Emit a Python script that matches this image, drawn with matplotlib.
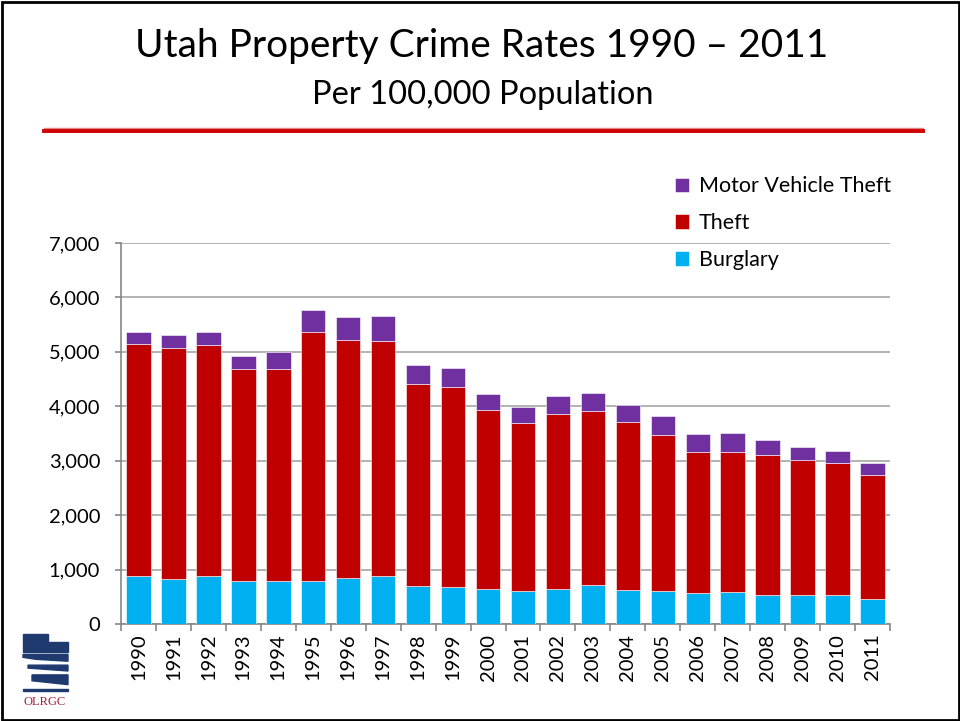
import matplotlib
matplotlib.use("Agg")
import matplotlib.pyplot as plt
from matplotlib.patches import Rectangle, Polygon
from matplotlib.lines import Line2D
from matplotlib.ticker import FuncFormatter, MultipleLocator
import numpy as np

plt.rcParams['font.family'] = ['Lato', 'DejaVu Sans']

years = [str(y) for y in range(1990, 2012)]
burglary = [882, 833, 882, 790, 790, 790, 839, 882, 692, 680, 643,
            605, 642, 716, 624, 599, 569, 587, 532, 538, 538, 459]
theft = [4256, 4244, 4237, 3895, 3901, 4568, 4372, 4323, 3711, 3668, 3282,
         3089, 3223, 3198, 3089, 2881, 2599, 2581, 2575, 2483, 2416, 2287]
mvt = [226, 238, 239, 238, 300, 404, 435, 453, 355, 349, 294,
       288, 331, 325, 318, 349, 330, 337, 269, 239, 220, 214]

c_burg = '#00B0F0'
c_theft = '#C00000'
c_mvt = '#7030A0'

W, H = 960, 721
fig = plt.figure(figsize=(W/100, H/100), dpi=100)

# slide border
fig.add_artist(Rectangle((1.5/W, 1.5/H), (W-3)/W, (H-3)/H, transform=fig.transFigure,
                         fill=False, edgecolor='black', linewidth=2))

fig.text(482/W, 1-46/H, 'Utah Property Crime Rates 1990 \u2013 2011', ha='center', va='center',
         fontsize=28, color='black')
fig.text(483/W, 1-95/H, 'Per 100,000 Population', ha='center', va='center',
         fontsize=23.5, color='black')

# red double line
fig.add_artist(Line2D([44/W, 923/W], [1-127.6/H, 1-127.6/H], transform=fig.transFigure,
                      color='#E88080', linewidth=1.0))
fig.add_artist(Line2D([44/W, 923/W], [1-131.3/H, 1-131.3/H], transform=fig.transFigure,
                      color='#CC0000', linewidth=2.8))

ax = fig.add_axes([121/W, 1-624/H, (890-121)/W, (624-243)/H])
x = np.arange(len(years))
bw = 0.7
b = np.array(burglary)
t = np.array(theft)
m = np.array(mvt)
ax.bar(x, b, bw, color=c_burg, label='Burglary', zorder=3, edgecolor='white', linewidth=0.4)
ax.bar(x, t, bw, bottom=b, color=c_theft, label='Theft', zorder=3, edgecolor='white', linewidth=0.4)
ax.bar(x, m, bw, bottom=b+t, color=c_mvt, label='Motor Vehicle Theft', zorder=3, edgecolor='white', linewidth=0.4)

ax.set_xlim(-0.5, len(years)-0.5)
ax.set_ylim(0, 7000)
ax.yaxis.set_major_locator(MultipleLocator(1000))
ax.yaxis.set_major_formatter(FuncFormatter(lambda v, p: f'{int(v):,}'))
ax.grid(axis='y', color='#A6A6A6', linewidth=1.2, zorder=0)
ax.set_axisbelow(True)
for s in ['top', 'right']:
    ax.spines[s].set_visible(False)
for s in ['left', 'bottom']:
    ax.spines[s].set_color('#868686')
    ax.spines[s].set_linewidth(1.2)

ax.set_xticks(x)
ax.set_xticklabels(years, rotation=90, fontsize=14.5)
ax.tick_params(axis='x', length=0, pad=7)
ax.set_xticks(np.arange(-0.5, len(years), 1), minor=True)
ax.tick_params(axis='x', which='minor', length=5, color='#868686', width=1.2)
ax.tick_params(axis='y', labelsize=14.5, length=4, color='#868686', width=1.2, pad=11)

handles, labels = ax.get_legend_handles_labels()
leg = fig.legend(handles[::-1], labels[::-1], loc='upper left',
                 bbox_to_anchor=(656/W, 1-157/H), frameon=False, fontsize=15.5,
                 handlelength=0.65, handleheight=0.65, labelspacing=0.78, handletextpad=0.45)

# logo (approximate)
lx = fig.add_axes([18/W, 1-710/H, 55/W, 78/H])
lx.set_xlim(0, 55)
lx.set_ylim(0, 80)
lx.axis('off')
navy = '#1F3A6E'
lx.add_patch(Polygon([[5, 78], [30, 78], [30, 70], [50, 70], [50, 60], [5, 60]], closed=True, color=navy))
lx.add_patch(Polygon([[5, 57], [50, 57], [50, 50], [18, 52], [5, 54]], closed=True, color=navy))
lx.add_patch(Polygon([[10, 46], [50, 46], [50, 40], [10, 43]], closed=True, color=navy))
lx.add_patch(Polygon([[14, 36], [50, 36], [50, 26], [14, 30]], closed=True, color=navy))
lx.add_patch(Polygon([[5, 22], [50, 22], [50, 19], [5, 19]], closed=True, color=navy))
lx.text(27, 8, 'OLRGC', ha='center', va='center', fontsize=9, color='#A0203A', family='Liberation Serif')

fig.savefig('out.png', dpi=100)
